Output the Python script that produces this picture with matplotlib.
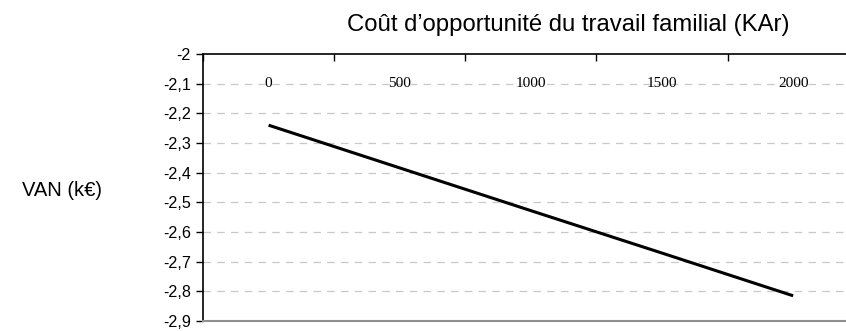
import matplotlib.pyplot as plt
import numpy as np

COUT_KAR = ["0", "500", "1000", "1500", "2000"]
VAN_KEUR = [-2.24, -2.384, -2.528, -2.671, -2.815]
Y_TICKS = [-2.0, -2.1, -2.2, -2.3, -2.4, -2.5, -2.6, -2.7, -2.8, -2.9]

x = np.arange(len(COUT_KAR))

fig = plt.figure(figsize=(8.46, 3.31), dpi=100)
ax = fig.add_axes([0.240, 0.0302, 0.775, 0.8067])

# dashed horizontal grid, skipping the axis rows
for y in Y_TICKS[1:-1]:
    ax.axhline(y, color="#c8c8c8", lw=0.9, dashes=(6, 5), zorder=1)

ax.plot(x, VAN_KEUR, color="black", lw=2.2, solid_capstyle="butt", zorder=3)

ax.set_xlim(-0.5, len(COUT_KAR) - 0.5)
ax.set_ylim(-2.9, -2.0)

# category axis sits on top, labels hang just under it
ax.xaxis.tick_top()
ax.set_xticks(np.arange(len(COUT_KAR) + 1) - 0.5)
ax.set_xticklabels([])
ax.tick_params(axis="x", direction="in", length=5, width=1, color="black")
for xi, lab in zip(x, COUT_KAR):
    ax.text(xi, -2.1, lab, ha="center", va="center", fontsize=11,
            family="Liberation Serif", zorder=2)

ax.set_yticks(Y_TICKS)
ax.set_yticklabels([("%g" % v).replace(".", ",") for v in Y_TICKS],
                   family="Liberation Sans", fontsize=11.6)
ax.tick_params(axis="y", direction="out", length=5, width=1, pad=3.6)

ax.spines["right"].set_visible(False)
ax.spines["top"].set_color("black")
ax.spines["top"].set_linewidth(1.2)
ax.spines["left"].set_linewidth(1.2)
ax.spines["bottom"].set_color("#909090")
ax.spines["bottom"].set_linewidth(1.5)

fig.text(568.5 / 846, 1 - 31 / 331, "Coût d\u2019opportunité du travail familial (KAr)",
         ha="center", va="baseline", fontsize=17.2, family="Liberation Sans")
fig.text(62 / 846, 1 - 190 / 331, "VAN (k\u20ac)", ha="center", va="center",
         fontsize=14.5, family="Liberation Sans")

fig.savefig("out.png", dpi=100)
